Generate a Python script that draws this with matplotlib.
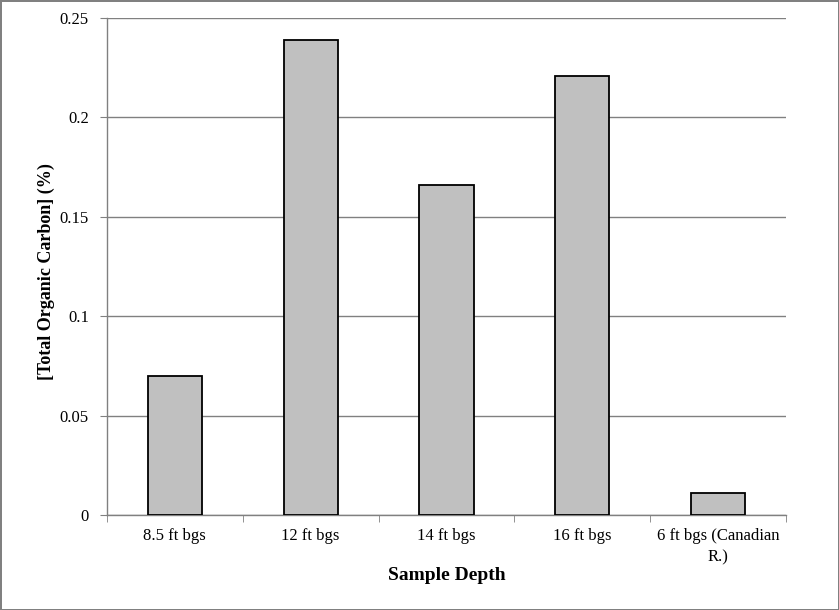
import matplotlib
matplotlib.use("Agg")
import matplotlib.pyplot as plt
import numpy as np

categories = ["8.5 ft bgs", "12 ft bgs", "14 ft bgs", "16 ft bgs", "6 ft bgs (Canadian\nR.)"]
toc_values = [0.070, 0.239, 0.166, 0.221, 0.011]
y_ticks = [0, 0.05, 0.1, 0.15, 0.2, 0.25]
y_tick_labels = ["0", "0.05", "0.1", "0.15", "0.2", "0.25"]

plt.rcParams['font.family'] = ['Liberation Serif', 'DejaVu Serif']

fig = plt.figure(figsize=(8.39, 6.10), dpi=100)
fig.patch.set_facecolor("white")
fig.patch.set_edgecolor("#808080")
fig.patch.set_linewidth(2)

ax = fig.add_axes([0.1275, 0.1557, 0.8093, 0.8148])
x = np.arange(len(categories))
ax.bar(x, toc_values, width=0.4, color="#c0c0c0", edgecolor="black", linewidth=1.3, zorder=3)

ax.set_xlim(-0.5, len(categories) - 0.5)
ax.set_ylim(0, 0.25)
ax.set_yticks(y_ticks)
ax.set_yticklabels(y_tick_labels)
ax.yaxis.grid(True, color="#808080", linewidth=1, zorder=0)

ax.set_xticks(x)
ax.set_xticklabels(categories, fontsize=12, linespacing=1.5, va="top")
ax.tick_params(axis="x", length=0, pad=9)
ax.set_xticks(np.arange(-0.5, len(categories)), minor=True)
ax.tick_params(axis="x", which="minor", length=5, color="#808080", direction="out")
ax.tick_params(axis="y", length=5, color="#808080", direction="out", labelsize=12, pad=8)

for s in ["top", "right"]:
    ax.spines[s].set_visible(False)
for s in ["left", "bottom"]:
    ax.spines[s].set_color("#808080")
    ax.spines[s].set_linewidth(1)

ax.set_xlabel("Sample Depth", fontsize=14, fontweight="bold")
ax.xaxis.set_label_coords(0.5, -0.105)
ax.set_ylabel("[Total Organic Carbon] (%)", fontsize=13, fontweight="bold")
ax.yaxis.set_label_coords(-0.077, 0.49)

fig.savefig("out.png", dpi=100)
